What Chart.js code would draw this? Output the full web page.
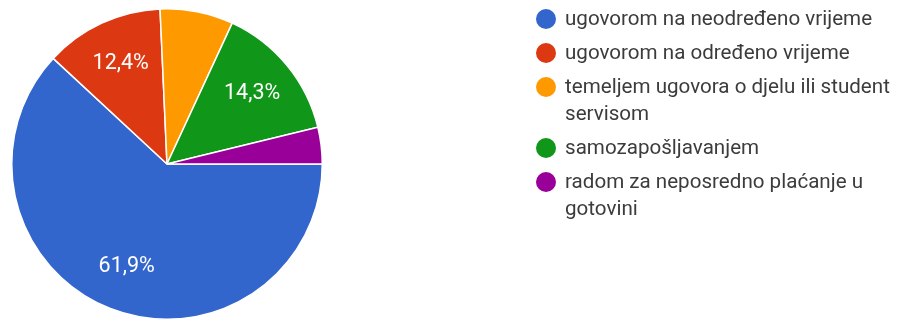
<!DOCTYPE html>
<html>
<head>
<meta charset="utf-8">
<script src="https://cdn.jsdelivr.net/npm/chart.js@4"></script>
<style>
  html, body { margin: 0; padding: 0; background: #fff; overflow: hidden; }
  #wrap { position: relative; width: 899px; height: 320px; }
  #chart { position: absolute; left: 0; top: 0; }
  #legend {
    position: absolute; left: 536px; top: 5px; width: 362px;
    font-family: Roboto, Arial, sans-serif; font-size: 20.6px; color: #3c3c3c;
    list-style: none; margin: 0; padding: 0;
  }
  #legend li { position: relative; padding-left: 29px; line-height: 27px; margin-bottom: 7px; }
  #legend .dot {
    position: absolute; left: 0; top: 4px; width: 20px; height: 20px; border-radius: 50%;
  }
</style>
</head>
<body>
<div id="wrap">
  <canvas id="chart" width="899" height="320"></canvas>
  <ul id="legend"></ul>
</div>
<script>
// Response categories and counts (percent shares in the picture: 61,9 / 12,4 / 7,6 / 14,3 / 3,8)
const categories = [
    'ugovorom na neodređeno vrijeme',
    'ugovorom na određeno vrijeme',
    'temeljem ugovora o djelu ili student servisom',
    'samozapošljavanjem',
    'radom za neposredno plaćanje u gotovini'
];
const counts = [65, 13, 8, 15, 4];
const sliceColors = ['#3366cc', '#dc3912', '#ff9900', '#109618', '#990099'];

document.addEventListener('DOMContentLoaded', () => {
    const total = counts.reduce((a, b) => a + b, 0);

    // Percentage labels inside the bigger slices, like Google Forms
    const sliceLabels = {
        id: 'sliceLabels',
        afterDatasetsDraw(chart) {
            const ctx = chart.ctx;
            const meta = chart.getDatasetMeta(0);
            ctx.save();
            ctx.fillStyle = '#ffffff';
            ctx.font = '21.5px Roboto, Arial, sans-serif';
            ctx.textAlign = 'center';
            ctx.textBaseline = 'middle';
            meta.data.forEach((arc, i) => {
                const pct = counts[i] / total * 100;
                if (pct < 10) return;
                const mid = (arc.startAngle + arc.endAngle) / 2;
                const r = arc.outerRadius * 0.71;
                const x = arc.x + Math.cos(mid) * r;
                const y = arc.y + Math.sin(mid) * r;
                ctx.fillText(pct.toFixed(1).replace('.', ',') + '%', x, y);
            });
            ctx.restore();
        }
    };

    new Chart(document.getElementById('chart'), {
        type: 'pie',
        data: {
            labels: categories,
            datasets: [{
                data: counts,
                backgroundColor: sliceColors,
                borderColor: '#ffffff',
                borderWidth: 1.5
            }]
        },
        options: {
            responsive: false,
            animation: false,
            rotation: 90,
            layout: { padding: { left: 0, right: 565, top: 8, bottom: 0 } },
            plugins: {
                legend: { display: false },
                tooltip: { enabled: false }
            }
        },
        plugins: [sliceLabels]
    });

    // HTML legend so long labels can wrap
    const legend = document.getElementById('legend');
    categories.forEach((name, i) => {
        const li = document.createElement('li');
        const dot = document.createElement('span');
        dot.className = 'dot';
        dot.style.background = sliceColors[i];
        li.appendChild(dot);
        li.appendChild(document.createTextNode(name));
        legend.appendChild(li);
    });
});
</script>
</body>
</html>
